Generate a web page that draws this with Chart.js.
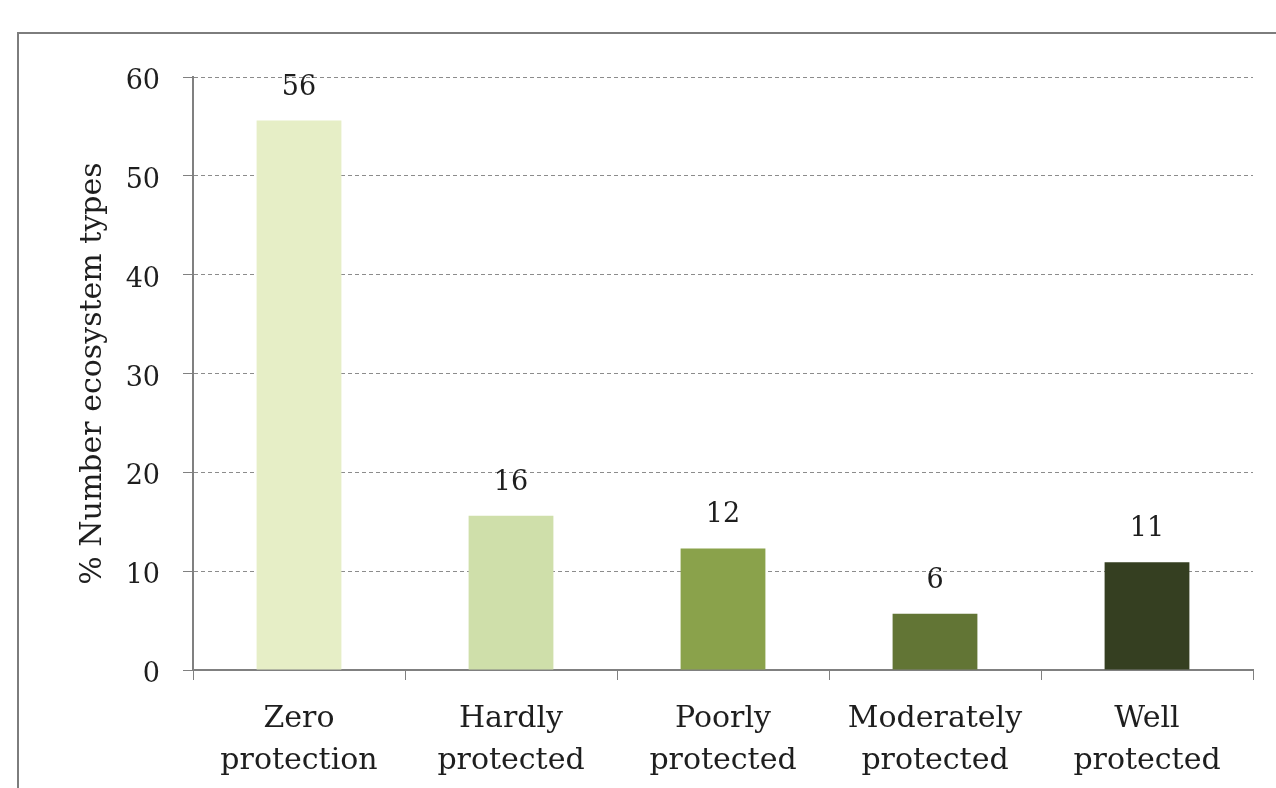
<!DOCTYPE html>
<html>
<head>
<meta charset="utf-8">
<style>
  html, body { margin: 0; padding: 0; background: #fff; overflow: hidden; }
  #wrap { position: relative; width: 1276px; height: 788px; overflow: hidden; }
  #frame { position: absolute; left: 17px; top: 32px; width: 1400px; height: 900px;
           border: 2px solid #7d7d7d; box-sizing: border-box; }
  #chart { position: absolute; left: 0; top: 0; }
</style>
<script src="https://cdn.jsdelivr.net/npm/chart.js@4"></script>
</head>
<body>
<div id="wrap">
  <div id="frame"></div>
  <canvas id="chart" width="1276" height="788"></canvas>
</div>
<script>
// Protection level categories (two-line axis labels)
const categories = [
  ['Zero', 'protection'],
  ['Hardly', 'protected'],
  ['Poorly', 'protected'],
  ['Moderately', 'protected'],
  ['Well', 'protected']
];
// Share of ecosystem types in each protection level (%)
const shareValues = [55.6, 15.6, 12.3, 5.7, 10.9];
const barColors = ['#e6eec6', '#cfdfaa', '#8aa24b', '#627535', '#353f21'];
const yTicks = [0, 10, 20, 30, 40, 50, 60];

const SERIF = "'DejaVu Serif', 'Liberation Serif', serif";
const TEXT = '#1e1e1e';

// Value labels above each bar, rounded to whole percent
const valueLabels = {
  id: 'valueLabels',
  afterDatasetsDraw(chart) {
    const ctx = chart.ctx;
    const meta = chart.getDatasetMeta(0);
    ctx.save();
    ctx.font = '27px ' + SERIF;
    ctx.fillStyle = TEXT;
    ctx.textAlign = 'center';
    ctx.textBaseline = 'middle';
    meta.data.forEach((bar, i) => {
      const v = chart.data.datasets[0].data[i];
      ctx.fillText(String(Math.round(v)), bar.x, bar.y - 33);
    });
    ctx.restore();
  }
};

new Chart(document.getElementById('chart'), {
  type: 'bar',
  data: {
    labels: categories,
    datasets: [{
      data: shareValues,
      backgroundColor: barColors,
      borderWidth: 0,
      categoryPercentage: 1,
      barPercentage: 0.4
    }]
  },
  options: {
    responsive: false,
    animation: false,
    devicePixelRatio: 1,
    layout: { padding: { left: 0, right: 23, top: 77, bottom: 0 } },
    plugins: { legend: { display: false }, tooltip: { enabled: false } },
    scales: {
      x: {
        grid: {
          display: true, drawOnChartArea: false, drawTicks: true,
          tickLength: 10, tickColor: '#808080', offset: true
        },
        border: { color: '#808080', width: 2 },
        ticks: {
          color: TEXT, padding: 18, maxRotation: 0, autoSkip: false,
          font: { family: SERIF, size: 30, lineHeight: 1.4 }
        },
        afterFit(s) { s.height = 118; }
      },
      y: {
        min: 0, max: 60,
        afterBuildTicks(s) { s.ticks = yTicks.map(v => ({ value: v })); },
        grid: {
          color: '#8c8c8c', lineWidth: 1, tickLength: 10,
          tickColor: '#808080', tickBorderDash: []
        },
        border: { color: '#808080', width: 2, dash: [4, 3] },
        ticks: {
          color: TEXT, padding: 23, labelOffset: 5,
          font: { family: SERIF, size: 27 }
        },
        title: {
          display: true, text: '% Number ecosystem types', color: TEXT,
          font: { family: SERIF, size: 30 },
          padding: { top: 75, bottom: 0 }
        },
        afterFit(s) { s.width = 193; }
      }
    }
  },
  plugins: [valueLabels]
});
</script>
</body>
</html>
